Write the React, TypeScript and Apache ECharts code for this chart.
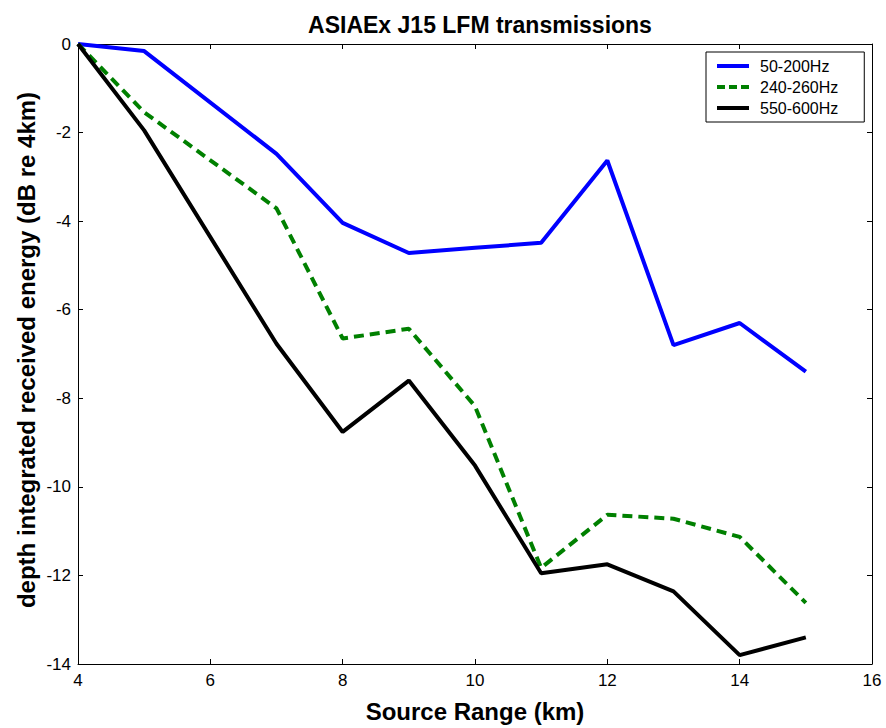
import React, { useEffect, useRef } from "react";
import * as echarts from "echarts";

// Source range (km) at which each band was measured
const rangesKm = [4, 5, 7, 8, 9, 10, 11, 12, 13, 14, 15];

// Depth-integrated received energy, dB relative to the 4 km value
const band50to200 = [0, -0.16, -2.48, -4.04, -4.72, -4.6, -4.49, -2.63, -6.8, -6.3, -7.4];
const band240to260 = [0, -1.54, -3.71, -6.65, -6.43, -8.18, -11.83, -10.63, -10.72, -11.13, -12.62];
const band550to600 = [0, -1.95, -6.77, -8.76, -7.6, -9.52, -11.95, -11.75, -12.36, -13.8, -13.4];

const seriesNames = ["50-200Hz", "240-260Hz", "550-600Hz"];
const xTicks = [4, 6, 8, 10, 12, 14, 16];
const yTicks = [0, -2, -4, -6, -8, -10, -12, -14];

const FONT = "Arial, 'Liberation Sans', sans-serif";

// legend swatches: a solid bar, and a bar broken into three dashes
const SOLID_ICON = "path://M0,0h32v4h-32z";
const DASH_ICON = "path://M0,0h8v4h-8z M12,0h8v4h-8z M24,0h8v4h-8z";

const pairs = (ys: number[]) => rangesKm.map((x, i) => [x, ys[i]]);

export default function App() {
  const ref = useRef<HTMLDivElement>(null);

  useEffect(() => {
    if (!ref.current) return;
    const chart = echarts.init(ref.current, null, { renderer: "svg" });

    const xMin = xTicks[0];
    const xMax = xTicks[xTicks.length - 1];
    const yMin = yTicks[yTicks.length - 1];
    const yMax = yTicks[0];

    const tickCommon = {
      axisTick: { show: true, inside: true, length: 5, lineStyle: { color: "#000", width: 1 } },
      axisLine: { show: true, onZero: false, lineStyle: { color: "#000", width: 1 } },
      splitLine: { show: false },
    };

    chart.setOption({
      animation: false,
      backgroundColor: "#fff",
      title: {
        text: "ASIAEx J15 LFM transmissions",
        left: 475,
        textAlign: "center",
        top: 8,
        textStyle: { fontFamily: FONT, fontWeight: "bold", fontSize: 23, color: "#000" },
      },
      legend: {
        data: [
          { name: seriesNames[0], icon: SOLID_ICON },
          { name: seriesNames[1], icon: DASH_ICON },
          { name: seriesNames[2], icon: SOLID_ICON },
        ],
        orient: "vertical",
        left: 706,
        top: 52,
        backgroundColor: "#fff",
        borderColor: "#000",
        borderWidth: 1,
        borderRadius: 0,
        padding: [6, 26, 6, 11],
        itemWidth: 32,
        itemHeight: 4,
        itemGap: 5,
        textStyle: { fontFamily: FONT, fontSize: 16, color: "#000", padding: [0, 0, 0, 6] },
      },
      graphic: [
        {
          type: "text",
          x: 26,
          y: 350,
          rotation: Math.PI / 2,
          style: {
            text: "depth integrated received energy (dB re 4km)",
            fontFamily: FONT,
            fontWeight: "bold",
            fontSize: 24,
            fill: "#000",
            align: "center",
            verticalAlign: "middle",
          },
        },
      ],
      grid: { left: 78, right: 14, top: 44, bottom: 58, containLabel: false },
      xAxis: [
        {
          type: "value",
          min: xMin,
          max: xMax,
          interval: 2,
          name: "Source Range (km)",
          nameLocation: "middle",
          nameGap: 35,
          nameTextStyle: { fontFamily: FONT, fontWeight: "bold", fontSize: 24, color: "#000" },
          axisLabel: { fontFamily: FONT, fontSize: 17, color: "#000", margin: 8 },
          ...tickCommon,
        },
        {
          type: "value",
          position: "top",
          min: xMin,
          max: xMax,
          interval: 2,
          axisLabel: { show: false },
          ...tickCommon,
        },
      ],
      yAxis: [
        {
          type: "value",
          min: yMin,
          max: yMax,
          interval: 2,
          axisLabel: { fontFamily: FONT, fontSize: 17, color: "#000", margin: 7 },
          ...tickCommon,
        },
        {
          type: "value",
          position: "right",
          min: yMin,
          max: yMax,
          interval: 2,
          axisLabel: { show: false },
          ...tickCommon,
        },
      ],
      series: [
        {
          name: seriesNames[0],
          type: "line",
          data: pairs(band50to200),
          symbol: "none",
          color: "#0000ff",
          lineStyle: { color: "#0000ff", width: 4 },
        },
        {
          name: seriesNames[1],
          type: "line",
          data: pairs(band240to260),
          symbol: "none",
          color: "#008000",
          lineStyle: { color: "#008000", width: 4, type: [10, 6] },
        },
        {
          name: seriesNames[2],
          type: "line",
          data: pairs(band550to600),
          symbol: "none",
          color: "#000000",
          lineStyle: { color: "#000000", width: 4 },
        },
      ],
    });

    return () => chart.dispose();
  }, []);

  return <div ref={ref} style={{ width: 886, height: 728, position: "absolute", left: 0, top: 0 }} />;
}
